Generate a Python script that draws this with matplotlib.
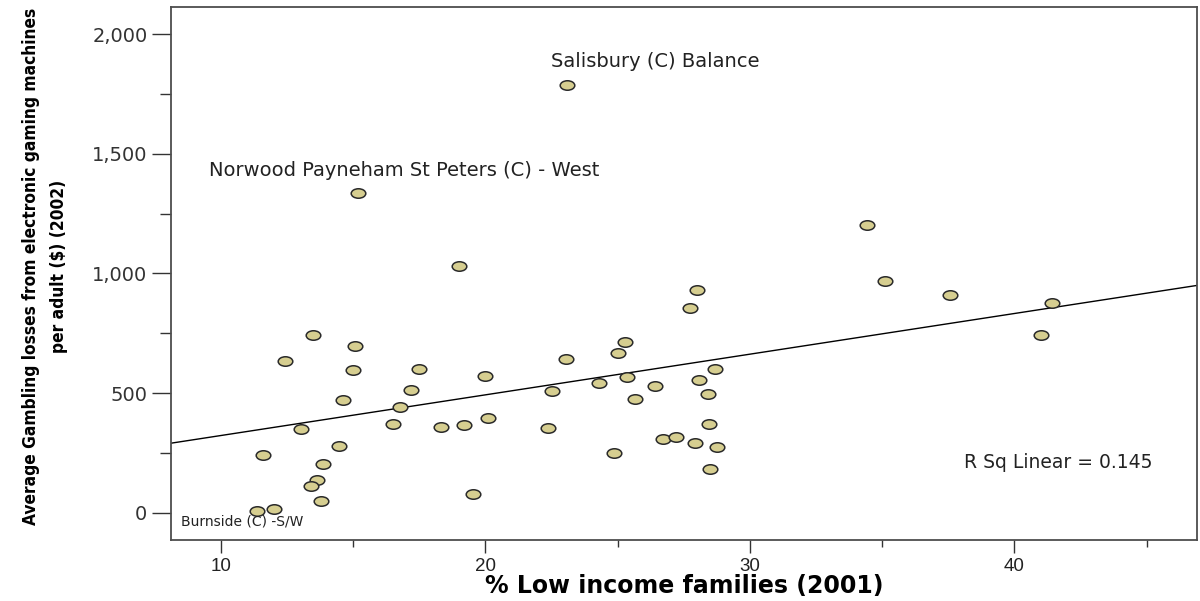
import numpy as np
import matplotlib
matplotlib.use("Agg")
import matplotlib.pyplot as plt
from matplotlib.path import Path
from matplotlib.transforms import Affine2D
from matplotlib.ticker import MultipleLocator, FuncFormatter
from matplotlib import font_manager as fm

# % low income families (2001) per local area
low_income_pct = [
    23.08, 15.18, 34.44, 18.99, 35.09, 28.00, 37.57, 27.73, 41.43, 41.00,
    13.47, 12.41, 15.07, 25.29, 23.05, 25.00, 17.49, 15.00, 28.67, 20.00,
    17.18, 22.50, 25.34, 26.40, 24.30, 28.07, 28.41, 25.66, 14.61, 16.78,
    16.49, 13.04, 18.32, 19.18, 20.08, 22.35, 28.44, 26.70, 27.20, 27.93,
    28.74, 14.45, 24.86, 11.60, 13.86, 13.62, 13.40, 13.79, 19.54, 28.50,
    11.37, 12.00,
]
# Average gaming-machine losses per adult ($, 2002)
losses_per_adult = [
    1787, 1338, 1203, 1033, 967, 930, 910, 857, 878, 742,
    744, 633, 699, 713, 643, 668, 601, 596, 600, 573,
    514, 511, 569, 532, 543, 555, 498, 477, 473, 441,
    373, 351, 360, 366, 395, 355, 370, 310, 317, 292,
    277, 281, 251, 241, 205, 137, 113, 51, 79, 184,
    10, 18,
]
# Labelled areas: (index into the arrays, name, text offset in pixels, size)
labelled_areas = [
    (0, "Salisbury (C) Balance", (-16, 24), 14),
    (1, "Norwood Payneham St Peters (C) - West", (-149, 22), 14),
    (50, "Burnside (C) -S/W", (-76, -11), 10),
]
r_sq_label = "R Sq Linear = 0.145"

x_ticks = [10, 20, 30, 40]
y_ticks = [0, 500, 1000, 1500, 2000]

x = np.array(low_income_pct)
y = np.array(losses_per_adult)

# use a condensed bold face for the y-axis title when one is installed
cond_props = fm.FontProperties(family="DejaVu Sans", stretch="condensed",
                               weight="bold")
cond_file = fm.findfont(cond_props, fallback_to_default=True)
has_condensed = "ondensed" in cond_file

fig = plt.figure(figsize=(12, 6.01), dpi=100)
ax = fig.add_axes([171 / 1200, 1 - 540 / 601, 1026 / 1200, 533 / 601])

# elliptical marker, wider than tall
ellipse = Path.unit_circle().transformed(Affine2D().scale(1.0, 0.65))
ax.scatter(x, y, s=(10.5) ** 2, marker=ellipse, facecolor="#d6ce90",
           edgecolor="#2a2a2a", linewidth=1.1, zorder=3)

# least-squares fit line across the full x range
xlim = (8.11, 46.9)
slope, intercept = np.polyfit(x, y, 1)
xs = np.array(xlim)
ax.plot(xs, intercept + slope * xs, color="black", linewidth=1.0, zorder=2)

ax.set_xlim(*xlim)
ax.set_ylim(-113, 2113)

ax.set_xticks(x_ticks)
ax.xaxis.set_minor_locator(MultipleLocator(5))
ax.set_yticks(y_ticks)
ax.yaxis.set_minor_locator(MultipleLocator(250))
ax.yaxis.set_major_formatter(FuncFormatter(lambda v, p: f"{int(v):,}"))

for side in ["top", "right", "left", "bottom"]:
    ax.spines[side].set_color("#4d4d4d")
    ax.spines[side].set_linewidth(1.3)

ax.tick_params(axis="y", which="major", length=14, width=1.0, color="#333333",
               pad=3, labelsize=14, labelcolor="#333333")
ax.tick_params(axis="y", which="minor", length=8, width=1.0, color="#333333")
ax.tick_params(axis="x", which="major", length=9, width=1.0, color="#333333",
               pad=4, labelsize=13.5, labelcolor="#222222")
ax.tick_params(axis="x", which="minor", length=5, width=1.0, color="#333333")
for lbl in ax.get_yticklabels():
    lbl.set_family("DejaVu Sans")
for lbl in ax.get_xticklabels():
    lbl.set_family("Liberation Sans")

for idx, name, off, size in labelled_areas:
    ax.annotate(name, (x[idx], y[idx]), xytext=off, textcoords="offset pixels",
                ha="left", va="center", fontsize=size, color="#222222",
                family="DejaVu Sans")

ax.text(0.773, 0.1445, r_sq_label, transform=ax.transAxes, ha="left",
        va="center", fontsize=13.5, color="#222222", family="DejaVu Sans")

fig.text(684 / 1200, 1 - 586 / 601, "% Low income families (2001)",
         ha="center", va="center", fontsize=17, fontweight="bold",
         family="DejaVu Sans")

if has_condensed:
    ytitle_kw = dict(family="DejaVu Sans", fontstretch="condensed")
else:
    ytitle_kw = dict(family="Liberation Sans")
ytitle = fig.text(45 / 1200, 1 - 266 / 601,
                  "Average Gambling losses from electronic gaming machines\nper adult ($) (2002)",
                  ha="center", va="center", rotation=90, fontweight="bold",
                  fontsize=14, linespacing=1.7, **ytitle_kw)

# shrink the y-axis title so its long line spans about 522 px
renderer = fig.canvas.get_renderer()
span = ytitle.get_window_extent(renderer).height
ytitle.set_fontsize(14 * 522 / span)

fig.savefig("out.png", dpi=100, facecolor="white")
